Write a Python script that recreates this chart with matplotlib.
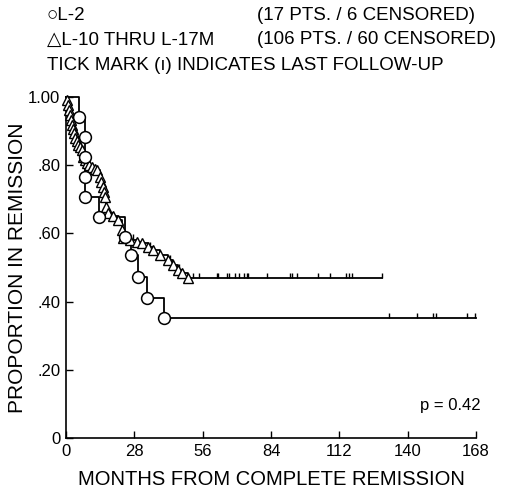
import numpy as np
import matplotlib
matplotlib.use("Agg")
import matplotlib.pyplot as plt

plt.rcParams['font.family'] = ['Liberation Sans', 'DejaVu Sans']

# L-2 group (circles): event times (months) and proportion after each event
l2_times = [5.3, 7.6, 7.6, 7.6, 7.6, 13.5, 24.0, 26.8, 29.4, 33.1, 40.0]
l2_surv = [0.941, 0.882, 0.824, 0.765, 0.706, 0.647, 0.590, 0.537, 0.472, 0.410, 0.352]
l2_end = 168.0
l2_censor = [132.5, 143.9, 150.4, 151.7, 164.4, 167.6]

# L-10 thru L-17M group (triangles)
l10_times = [0.4, 0.8, 1.2, 1.6, 2.0, 2.5, 2.9, 3.3, 3.7, 4.3, 4.9, 5.7, 6.5, 7.0,
             7.8, 8.6, 9.6, 10.6, 11.7, 12.7, 13.9, 14.5, 15.1, 15.5, 15.9, 16.4,
             17.2, 19.2, 21.3, 22.9, 23.3, 26.2, 29.0, 31.1, 33.5, 35.6, 38.4,
             41.7, 43.7, 45.8, 47.4, 49.9]
l10_surv = [0.990, 0.977, 0.962, 0.947, 0.932, 0.918, 0.906, 0.894, 0.880, 0.870,
            0.859, 0.852, 0.845, 0.824, 0.815, 0.806, 0.800, 0.795, 0.790, 0.786,
            0.765, 0.750, 0.736, 0.722, 0.707, 0.677, 0.660, 0.651, 0.639, 0.610,
            0.587, 0.581, 0.575, 0.572, 0.560, 0.551, 0.537, 0.522, 0.507, 0.493,
            0.484, 0.469]
l10_end = 129.6
l10_censor = [27.5, 34.5, 42.5, 46.5, 51.9, 54.4, 61.7, 62.3, 65.8, 66.6, 69.1,
              70.7, 72.8, 74.0, 74.4, 82.2, 91.6, 92.8, 94.8, 103.4, 108.3,
              114.9, 116.1, 117.3, 129.6]

p_text = "p = 0.42"
xticks = [0, 28, 56, 84, 112, 140, 168]
yticks = [0, 0.2, 0.4, 0.6, 0.8, 1.0]
ytick_labels = ["0", ".20", ".40", ".60", ".80", "1.00"]


def step_xy(times, surv, end):
    x = [0.0] + list(times) + [end]
    y = [1.0] + list(surv) + [surv[-1]]
    return x, y


def level_at(t, times, surv):
    i = np.searchsorted(times, t, side='right')
    return 1.0 if i == 0 else surv[i - 1]


fig = plt.figure(figsize=(5.26, 4.97), dpi=100)
ax = fig.add_axes([0.1255, 0.1187, 0.7795, 0.6861])

lw = 1.3
fs = 12

x, y = step_xy(l2_times, l2_surv, l2_end)
ax.step(x, y, where='post', color='black', lw=lw, clip_on=False, zorder=2)
x, y = step_xy(l10_times, l10_surv, l10_end)
ax.step(x, y, where='post', color='black', lw=lw, clip_on=False, zorder=2)

# censor tick marks
for t in l2_censor:
    s = level_at(t, l2_times, l2_surv)
    ax.vlines(t, s, s + 0.016, color='black', lw=1.0, clip_on=False)
for t in l10_censor:
    s = level_at(t, l10_times, l10_surv)
    ax.vlines(t, s, s + 0.016, color='black', lw=1.0, clip_on=False)

ax.plot(l10_times, l10_surv, linestyle='none', marker='^', ms=6.5,
        mfc='white', mec='black', mew=1.0, clip_on=False, zorder=3)
ax.plot(l2_times, l2_surv, linestyle='none', marker='o', ms=8.5,
        mfc='white', mec='black', mew=1.1, clip_on=False, zorder=4)

ax.set_xlim(0, 168)
ax.set_ylim(0, 1.0)
ax.spines['top'].set_visible(False)
ax.spines['right'].set_visible(False)
ax.spines['left'].set_linewidth(1.2)
ax.spines['bottom'].set_linewidth(1.2)
ax.set_xticks(xticks)
ax.set_xticklabels([str(v) for v in xticks])
ax.set_yticks(yticks)
ax.set_yticklabels(ytick_labels)
ax.tick_params(direction='in', length=5, width=1.0, labelsize=fs, pad=4)

ax.set_xlabel("MONTHS FROM COMPLETE REMISSION", fontsize=14.5, labelpad=8)
ax.set_ylabel("PROPORTION IN REMISSION", fontsize=15, labelpad=1)

ax.text(1.01, 0.094, p_text, transform=ax.transAxes, ha='right', va='center',
        fontsize=fs)

# header legend
hs = 13.5
x0 = 47 / 526
x1 = 257 / 526
fig.text(x0, 1 - 15 / 497, "\u25cbL-2", fontsize=hs, va='center')
fig.text(x1, 1 - 15 / 497, "(17 PTS. / 6 CENSORED)", fontsize=hs, va='center')
fig.text(x0, 1 - 40 / 497, "\u25b3L-10 THRU L-17M", fontsize=hs, va='center')
fig.text(x1, 1 - 40 / 497, "(106 PTS. / 60 CENSORED)", fontsize=hs, va='center')
fig.text(x0, 1 - 65 / 497, "TICK MARK (\u0131) INDICATES LAST FOLLOW-UP",
         fontsize=hs, va='center')

fig.savefig("out.png", dpi=100)
